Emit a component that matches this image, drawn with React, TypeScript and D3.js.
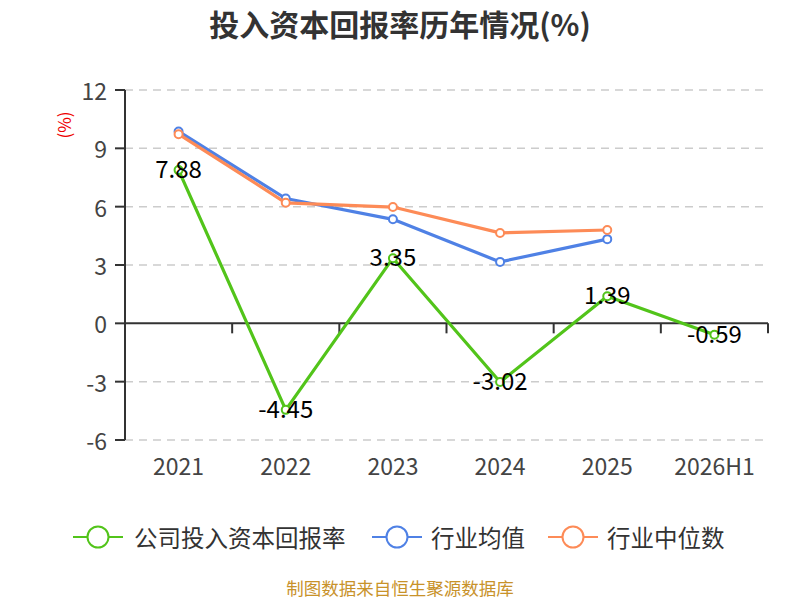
import React from 'react';
import * as d3 from 'd3';

const categories = ['2021', '2022', '2023', '2024', '2025', '2026H1'];
const companyRoic = [7.88, -4.45, 3.35, -3.02, 1.39, -0.59];
const industryAvg = [9.87, 6.42, 5.35, 3.16, 4.33];
const industryMedian = [9.73, 6.2, 5.98, 4.65, 4.8];
const yTicks = [-6, -3, 0, 3, 6, 9, 12];

const seriesNames = ['公司投入资本回报率', '行业均值', '行业中位数'];
const seriesColors = ['#52c41a', '#4f81e5', '#fd8b57'];

const FONT = '"Noto Sans CJK SC", "Noto Sans", sans-serif';

const App: React.FC = () => {
  const width = 800;
  const height = 600;
  const left = 125;
  const right = 768;
  const top = 90;
  const bottom = 440;

  const x = d3.scaleBand<string>().domain(categories).range([left, right]);
  const y = d3.scaleLinear().domain([-6, 12]).range([bottom, top]);
  const cx = (c: string) => (x(c) ?? 0) + x.bandwidth() / 2;

  const line = d3
    .line<number>()
    .x((_, i) => cx(categories[i]))
    .y((d) => y(d));

  const series = [companyRoic, industryAvg, industryMedian];

  // legend layout (icon start, text start)
  const legendItems = [
    { x: 73, textX: 134 },
    { x: 372, textX: 431 },
    { x: 548, textX: 607 },
  ];

  return (
    <svg
      width={width}
      height={height}
      style={{ position: 'absolute', left: 0, top: 0 }}
      fontFamily={FONT}
    >
      <rect width={width} height={height} fill="#fff" />

      {/* title */}
      <text x={400} y={23} textAnchor="middle" dominantBaseline="central" fontSize={30} fontWeight="bold" fill="#333">
        投入资本回报率历年情况(%)
      </text>

      {/* y unit */}
      <text
        transform={`translate(63,125) rotate(-90)`}
        textAnchor="middle"
        dominantBaseline="central"
        fontSize={17}
        fill="#e00"
      >
        (%)
      </text>

      {/* grid */}
      {yTicks
        .filter((t) => t !== 0)
        .map((t) => (
          <line key={t} x1={left} x2={right} y1={y(t)} y2={y(t)} stroke="#ccc" strokeWidth={1.5} strokeDasharray="8,6" />
        ))}

      {/* y axis */}
      <line x1={left} x2={left} y1={top} y2={bottom} stroke="#333" strokeWidth={2} />
      {yTicks.map((t) => (
        <g key={t}>
          <line x1={left - 10} x2={left} y1={y(t)} y2={y(t)} stroke="#333" strokeWidth={2} />
          <text x={left - 18} y={y(t)} textAnchor="end" dominantBaseline="central" fontSize={23} fill="#444">
            {t}
          </text>
        </g>
      ))}

      {/* x axis at zero */}
      <line x1={left} x2={right} y1={y(0)} y2={y(0)} stroke="#333" strokeWidth={2} />
      {categories.map((c) => (
        <line
          key={c}
          x1={(x(c) ?? 0) + x.bandwidth()}
          x2={(x(c) ?? 0) + x.bandwidth()}
          y1={y(0)}
          y2={y(0) + 10}
          stroke="#333"
          strokeWidth={2}
        />
      ))}
      {categories.map((c) => (
        <text key={c} x={cx(c)} y={465} textAnchor="middle" dominantBaseline="central" fontSize={23} fill="#444">
          {c}
        </text>
      ))}

      {/* series */}
      {series.map((s, si) => (
        <g key={si}>
          <path d={line(s) ?? ''} fill="none" stroke={seriesColors[si]} strokeWidth={3.2} strokeLinejoin="round" />
          {s.map((v, i) => (
            <circle key={i} cx={cx(categories[i])} cy={y(v)} r={4} fill="#fff" stroke={seriesColors[si]} strokeWidth={2} />
          ))}
        </g>
      ))}

      {/* labels */}
      {companyRoic.map((v, i) => (
        <text key={i} x={cx(categories[i])} y={y(v) - 2.5} textAnchor="middle" dominantBaseline="central" fontSize={24} fill="#000">
          {v.toFixed(2)}
        </text>
      ))}

      {/* legend */}
      {legendItems.map((it, i) => (
        <g key={i}>
          <line x1={it.x} x2={it.x + 50} y1={537} y2={537} stroke={seriesColors[i]} strokeWidth={2} />
          <circle cx={it.x + 25} cy={537} r={10.5} fill="#fff" stroke={seriesColors[i]} strokeWidth={2} />
          <text x={it.textX} y={537} dominantBaseline="central" fontSize={23.5} fill="#333">
            {seriesNames[i]}
          </text>
        </g>
      ))}

      {/* footer */}
      <text x={400} y={587} textAnchor="middle" dominantBaseline="central" fontSize={17.5} fill="#c8922a">
        制图数据来自恒生聚源数据库
      </text>
    </svg>
  );
};

export default App;
